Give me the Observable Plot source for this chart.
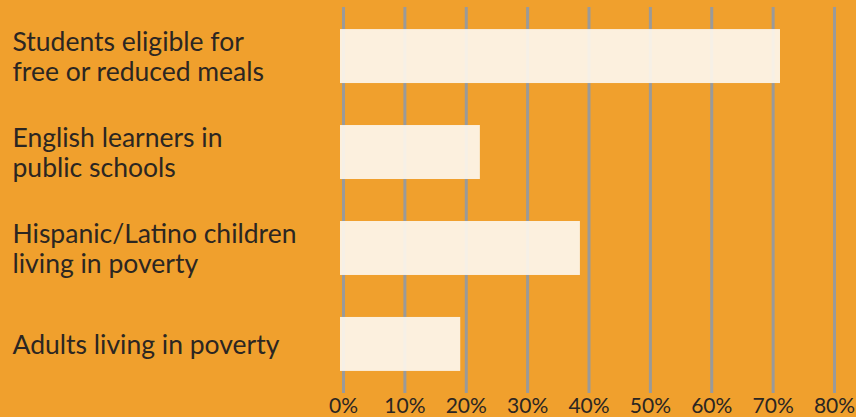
<!DOCTYPE html>
<html>
<head>
<meta charset="utf-8">
<script src="https://cdn.jsdelivr.net/npm/d3@7"></script>
<script src="https://cdn.jsdelivr.net/npm/@observablehq/plot@0.6"></script>
<style>
  html, body { margin: 0; padding: 0; background: #F0A02D; }
</style>
</head>
<body>
<div id="chart"></div>
<script>
const categories = [
  "Students eligible for\nfree or reduced meals",
  "English learners in\npublic schools",
  "Hispanic/Latino children\nliving in poverty",
  "Adults living in poverty"
];
const values = [0.712, 0.223, 0.386, 0.191];
const tickValues = [0, 0.1, 0.2, 0.3, 0.4, 0.5, 0.6, 0.7, 0.8];
const tickLabels = ["0%", "10%", "20%", "30%", "40%", "50%", "60%", "70%", "80%"];

const data = categories.map((c, i) => ({label: c, value: values[i]}));
const ticks = tickValues.map((t, i) => ({t, label: tickLabels[i]}));

const W = 856, H = 417, ML = 343, MR = 22, MT = 7, MB = 24;
const ink = "#2b2622";

const chart = Plot.plot({
  width: W,
  height: H,
  marginLeft: ML,
  marginRight: MR,
  marginTop: MT,
  marginBottom: MB,
  style: {background: "#F0A02D", fontFamily: "Lato, sans-serif"},
  x: {domain: [0, 0.8], axis: null},
  y: {domain: categories, axis: null, paddingInner: 0.4375, paddingOuter: 0.23, round: false},
  marks: [
    Plot.ruleX(ticks, {x: "t", stroke: "#9a9a9a", strokeWidth: 3}),
    Plot.barX(data, {y: "label", x: "value", fill: "#FDF6EC", fillOpacity: 0.93, insetLeft: -3}),
    Plot.text(data, {
      y: "label", text: "label", frameAnchor: "left", textAnchor: "start",
      dx: 12 - ML, fontSize: 26.5, lineHeight: 1.13, fill: ink
    }),
    Plot.text(ticks, {
      x: "t", text: "label", frameAnchor: "bottom", dy: 19,
      fontSize: 21, fill: ink
    })
  ]
});
document.getElementById("chart").appendChild(chart);
</script>
</body>
</html>
